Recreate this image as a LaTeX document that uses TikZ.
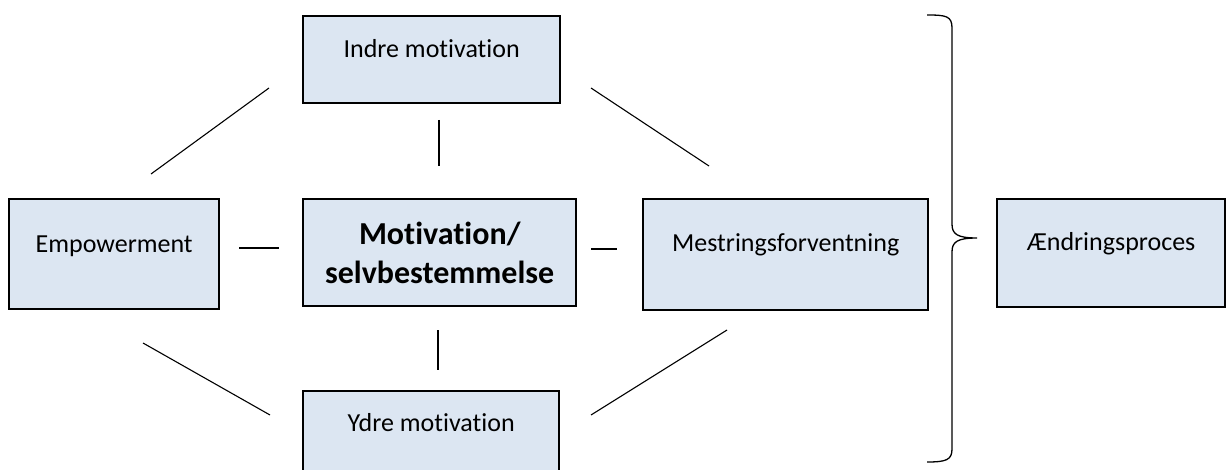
\documentclass[tikz,border=0pt]{standalone}
\usepackage{fontspec}
\setmainfont{Carlito}[RawFeature={-liga}]
\definecolor{boxfill}{HTML}{DCE6F2}
\tikzset{
  x=1pt, y=-1pt,
  box/.style={draw=black, line width=2.4pt, fill=boxfill, inner sep=0pt, anchor=north west,
    align=center, font=\fontsize{26}{31}\selectfont},
  conn/.style={draw=black, line width=1.1pt},
  bracepath/.style={draw=black, line width=1.3pt}
}
\begin{document}
\begin{tikzpicture}
\path[use as bounding box, clip] (0,0) rectangle (1230,470);
% boxes
\node[box, minimum width=257pt, text height=41pt, text depth=46pt] (indre) at (302,15) {Indre motivation};
\node[box, minimum width=210pt, text height=53pt, text depth=57pt] (emp) at (8,198) {Empowerment};
\node[box, minimum width=273pt, minimum height=107pt, font=\fontsize{32}{39}\selectfont\bfseries] (mot) at (302,198) {Motivation/\\selvbestemmelse};
\node[box, minimum width=285pt, text height=52pt, text depth=59pt] (mest) at (642,198) {Mestringsforventning};
\node[box, minimum width=228pt, text height=51pt, text depth=57pt] (aend) at (996,198) {Ændringsproces};
\node[box, minimum width=256pt, text height=40pt, text depth=100pt] (ydre) at (302,390) {Ydre motivation};
% connector end points
\coordinate (c1a) at (151,174); \coordinate (c1b) at (269,88);
\coordinate (c2a) at (439,120); \coordinate (c2b) at (439,166);
\coordinate (c3a) at (591,88);  \coordinate (c3b) at (709,166);
\coordinate (c4a) at (239,248); \coordinate (c4b) at (279,248);
\coordinate (c5a) at (591,249); \coordinate (c5b) at (617,249);
\coordinate (c6a) at (438,330); \coordinate (c6b) at (438,370);
\coordinate (c7a) at (143,343); \coordinate (c7b) at (270,415);
\coordinate (c8a) at (727,330); \coordinate (c8b) at (591,415);
\draw[conn] (c1a) -- (c1b);
\draw[conn] (c2a) -- (c2b);
\draw[conn] (c3a) -- (c3b);
\draw[conn] (c4a) -- (c4b);
\draw[conn] (c5a) -- (c5b);
\draw[conn] (c6a) -- (c6b);
\draw[conn] (c7a) -- (c7b);
\draw[conn] (c8a) -- (c8b);
% brace
\coordinate (btop) at (927,15);
\coordinate (bbot) at (927,462);
\coordinate (btip) at (977,238);
\draw[bracepath] (btop) .. controls (946,15) and (952,16) .. (952,28)
  -- (952,224) .. controls (952,234) and (957,238) .. (btip)
  .. controls (957,238) and (952,242) .. (952,252)
  -- (952,449) .. controls (952,460) and (946,462) .. (bbot);
\end{tikzpicture}
\end{document}
